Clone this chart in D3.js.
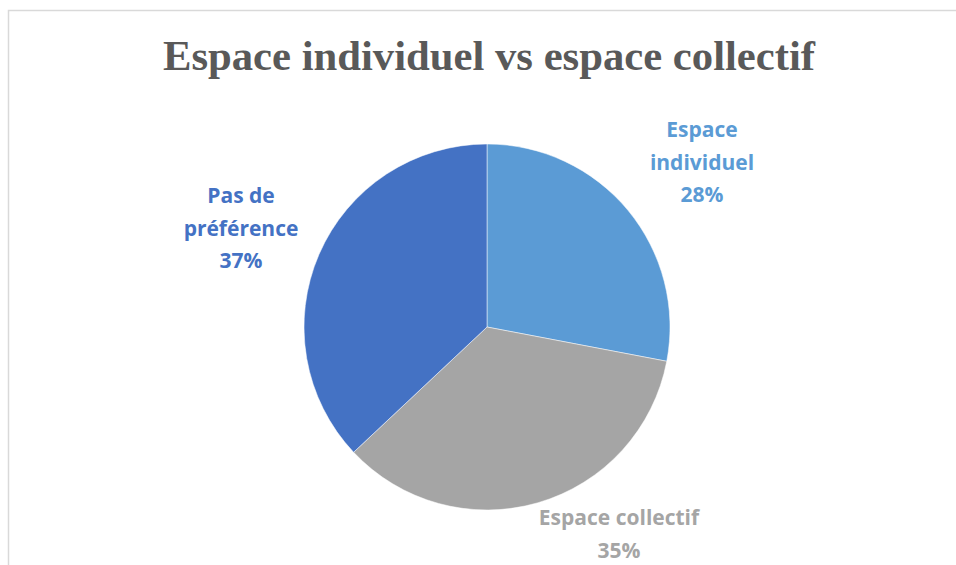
<!DOCTYPE html>
<html>
<head>
<meta charset="utf-8">
<script src="https://cdn.jsdelivr.net/npm/d3@7"></script>
<style>
  body { margin: 0; background: #fff; }
</style>
</head>
<body>
<script>
const categories = ["Espace individuel", "Espace collectif", "Pas de préférence"];
const values = [28, 35, 37];
const colors = ["#5B9BD5", "#A5A5A5", "#4472C4"];
// label lines and anchor points (label layout, not data)
const labelLines = [["Espace", "individuel", "28%"], ["Espace collectif", "35%"], ["Pas de", "préférence", "37%"]];
const labelPos = [[702, 137], [619, 525], [241, 203]];

const width = 956, height = 565;
const cx = 487, cy = 327, radius = 183;

const svg = d3.select("body").append("svg")
  .attr("width", width)
  .attr("height", height);

svg.append("rect")
  .attr("width", width).attr("height", height)
  .attr("fill", "#fff");

// chart frame
svg.append("rect")
  .attr("x", 8.5).attr("y", 10.5)
  .attr("width", width).attr("height", height)
  .attr("fill", "none")
  .attr("stroke", "#d9d9d9")
  .attr("stroke-width", 1.5);

svg.append("text")
  .attr("x", 489).attr("y", 70)
  .attr("text-anchor", "middle")
  .attr("font-family", "'Liberation Serif', 'Times New Roman', serif")
  .attr("font-weight", "bold")
  .attr("font-size", 42.7)
  .attr("fill", "#595959")
  .text("Espace individuel vs espace collectif");

const pie = d3.pie().sort(null).value(d => d);
const arc = d3.arc().innerRadius(0).outerRadius(radius);

const g = svg.append("g").attr("transform", `translate(${cx},${cy})`);
g.selectAll("path")
  .data(pie(values))
  .enter()
  .append("path")
  .attr("d", arc)
  .attr("fill", (d, i) => colors[i])
  .attr("stroke", "#fff")
  .attr("stroke-width", 0.5);

// data labels
categories.forEach((c, i) => {
  const t = svg.append("text")
    .attr("text-anchor", "middle")
    .attr("font-family", "'Open Sans', sans-serif")
    .attr("font-weight", "bold")
    .attr("font-size", 21)
    .attr("fill", colors[i]);
  labelLines[i].forEach((line, j) => {
    t.append("tspan")
      .attr("x", labelPos[i][0])
      .attr("y", labelPos[i][1] + j * 32.5)
      .text(line);
  });
});
</script>
</body>
</html>
